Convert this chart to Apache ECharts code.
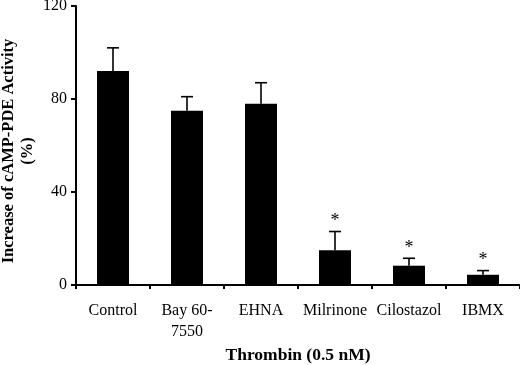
<!DOCTYPE html>
<html>
<head>
<meta charset="utf-8">
<script src="https://cdn.jsdelivr.net/npm/echarts@6/dist/echarts.min.js"></script>
<style>
  html, body { margin: 0; padding: 0; background: #fff; }
  #main { width: 520px; height: 365px; }
</style>
</head>
<body>
<div id="main"></div>
<script>
// 数据
var categories = ['Control', 'Bay 60-\n7550', 'EHNA', 'Milrinone', 'Cilostazol', 'IBMX'];
var means = [92, 75, 78, 15, 8.3, 4.4];
var errors = [10, 6, 9, 8, 3.2, 1.8];
var significant = [false, false, false, true, true, true];
var yTicks = [0, 40, 80, 120];
var yTitle = 'Increase of cAMP-PDE Activity\n(%)';

var myChart = echarts.init(document.getElementById('main'));

var errData = [];
for (var i = 0; i < categories.length; i++) {
    errData.push([i, means[i], means[i] + errors[i], significant[i] ? 1 : 0]);
}

var font = '"Liberation Serif", "Times New Roman", serif';

var option = {
    animation: false,
    grid: { left: 76, right: 0, top: 6, bottom: 80, outerBoundsMode: 'none', containLabel: false },
    // y轴标题单独画，位置好控制
    graphic: [{
        type: 'text',
        x: 18,
        y: 151,
        rotation: Math.PI / 2,
        style: {
            text: yTitle,
            align: 'center',
            verticalAlign: 'middle',
            font: 'bold 16.5px ' + font,
            lineHeight: 19,
            fill: '#000'
        }
    }],
    xAxis: {
        type: 'category',
        data: categories,
        boundaryGap: true,
        name: 'Thrombin (0.5 nM)',
        nameLocation: 'middle',
        nameGap: 59,
        nameTextStyle: { fontFamily: font, fontSize: 17.5, fontWeight: 'bold', color: '#000' },
        axisLine: { lineStyle: { color: '#000', width: 2 } },
        axisTick: { show: true, alignWithLabel: false, length: 4, lineStyle: { color: '#000', width: 2 } },
        axisLabel: { color: '#000', fontFamily: font, fontSize: 16, margin: 15, lineHeight: 21, interval: 0 }
    },
    yAxis: {
        type: 'value',
        min: 0,
        max: 120,
        interval: 40,
        splitLine: { show: false },
        axisLine: { show: true, lineStyle: { color: '#000', width: 2 } },
        axisTick: { show: true, length: 5, lineStyle: { color: '#000', width: 2 } },
        axisLabel: {
            color: '#000', fontFamily: font, fontSize: 16, margin: 9,
            formatter: function (v) { return yTicks.indexOf(v) >= 0 ? v : ''; }
        }
    },
    series: [
        {
            type: 'bar',
            data: means,
            barWidth: 32,
            itemStyle: { color: '#000' }
        },
        {
            type: 'custom',
            data: errData,
            z: 10,
            renderItem: function (params, api) {
                var x = api.value(0);
                var base = api.coord([x, api.value(1)]);
                var top = api.coord([x, api.value(2)]);
                var children = [
                    { type: 'line', shape: { x1: base[0], y1: base[1], x2: top[0], y2: top[1] }, style: { stroke: '#000', lineWidth: 1.6 } },
                    { type: 'line', shape: { x1: top[0] - 6, y1: top[1], x2: top[0] + 6, y2: top[1] }, style: { stroke: '#000', lineWidth: 1.6 } }
                ];
                if (api.value(3)) {
                    children.push({
                        type: 'text',
                        style: {
                            text: '*', x: top[0], y: top[1] - 1,
                            align: 'center', verticalAlign: 'bottom',
                            font: '18px ' + font, fill: '#000'
                        }
                    });
                }
                return { type: 'group', children: children };
            }
        }
    ]
};

myChart.setOption(option);
</script>
</body>
</html>
